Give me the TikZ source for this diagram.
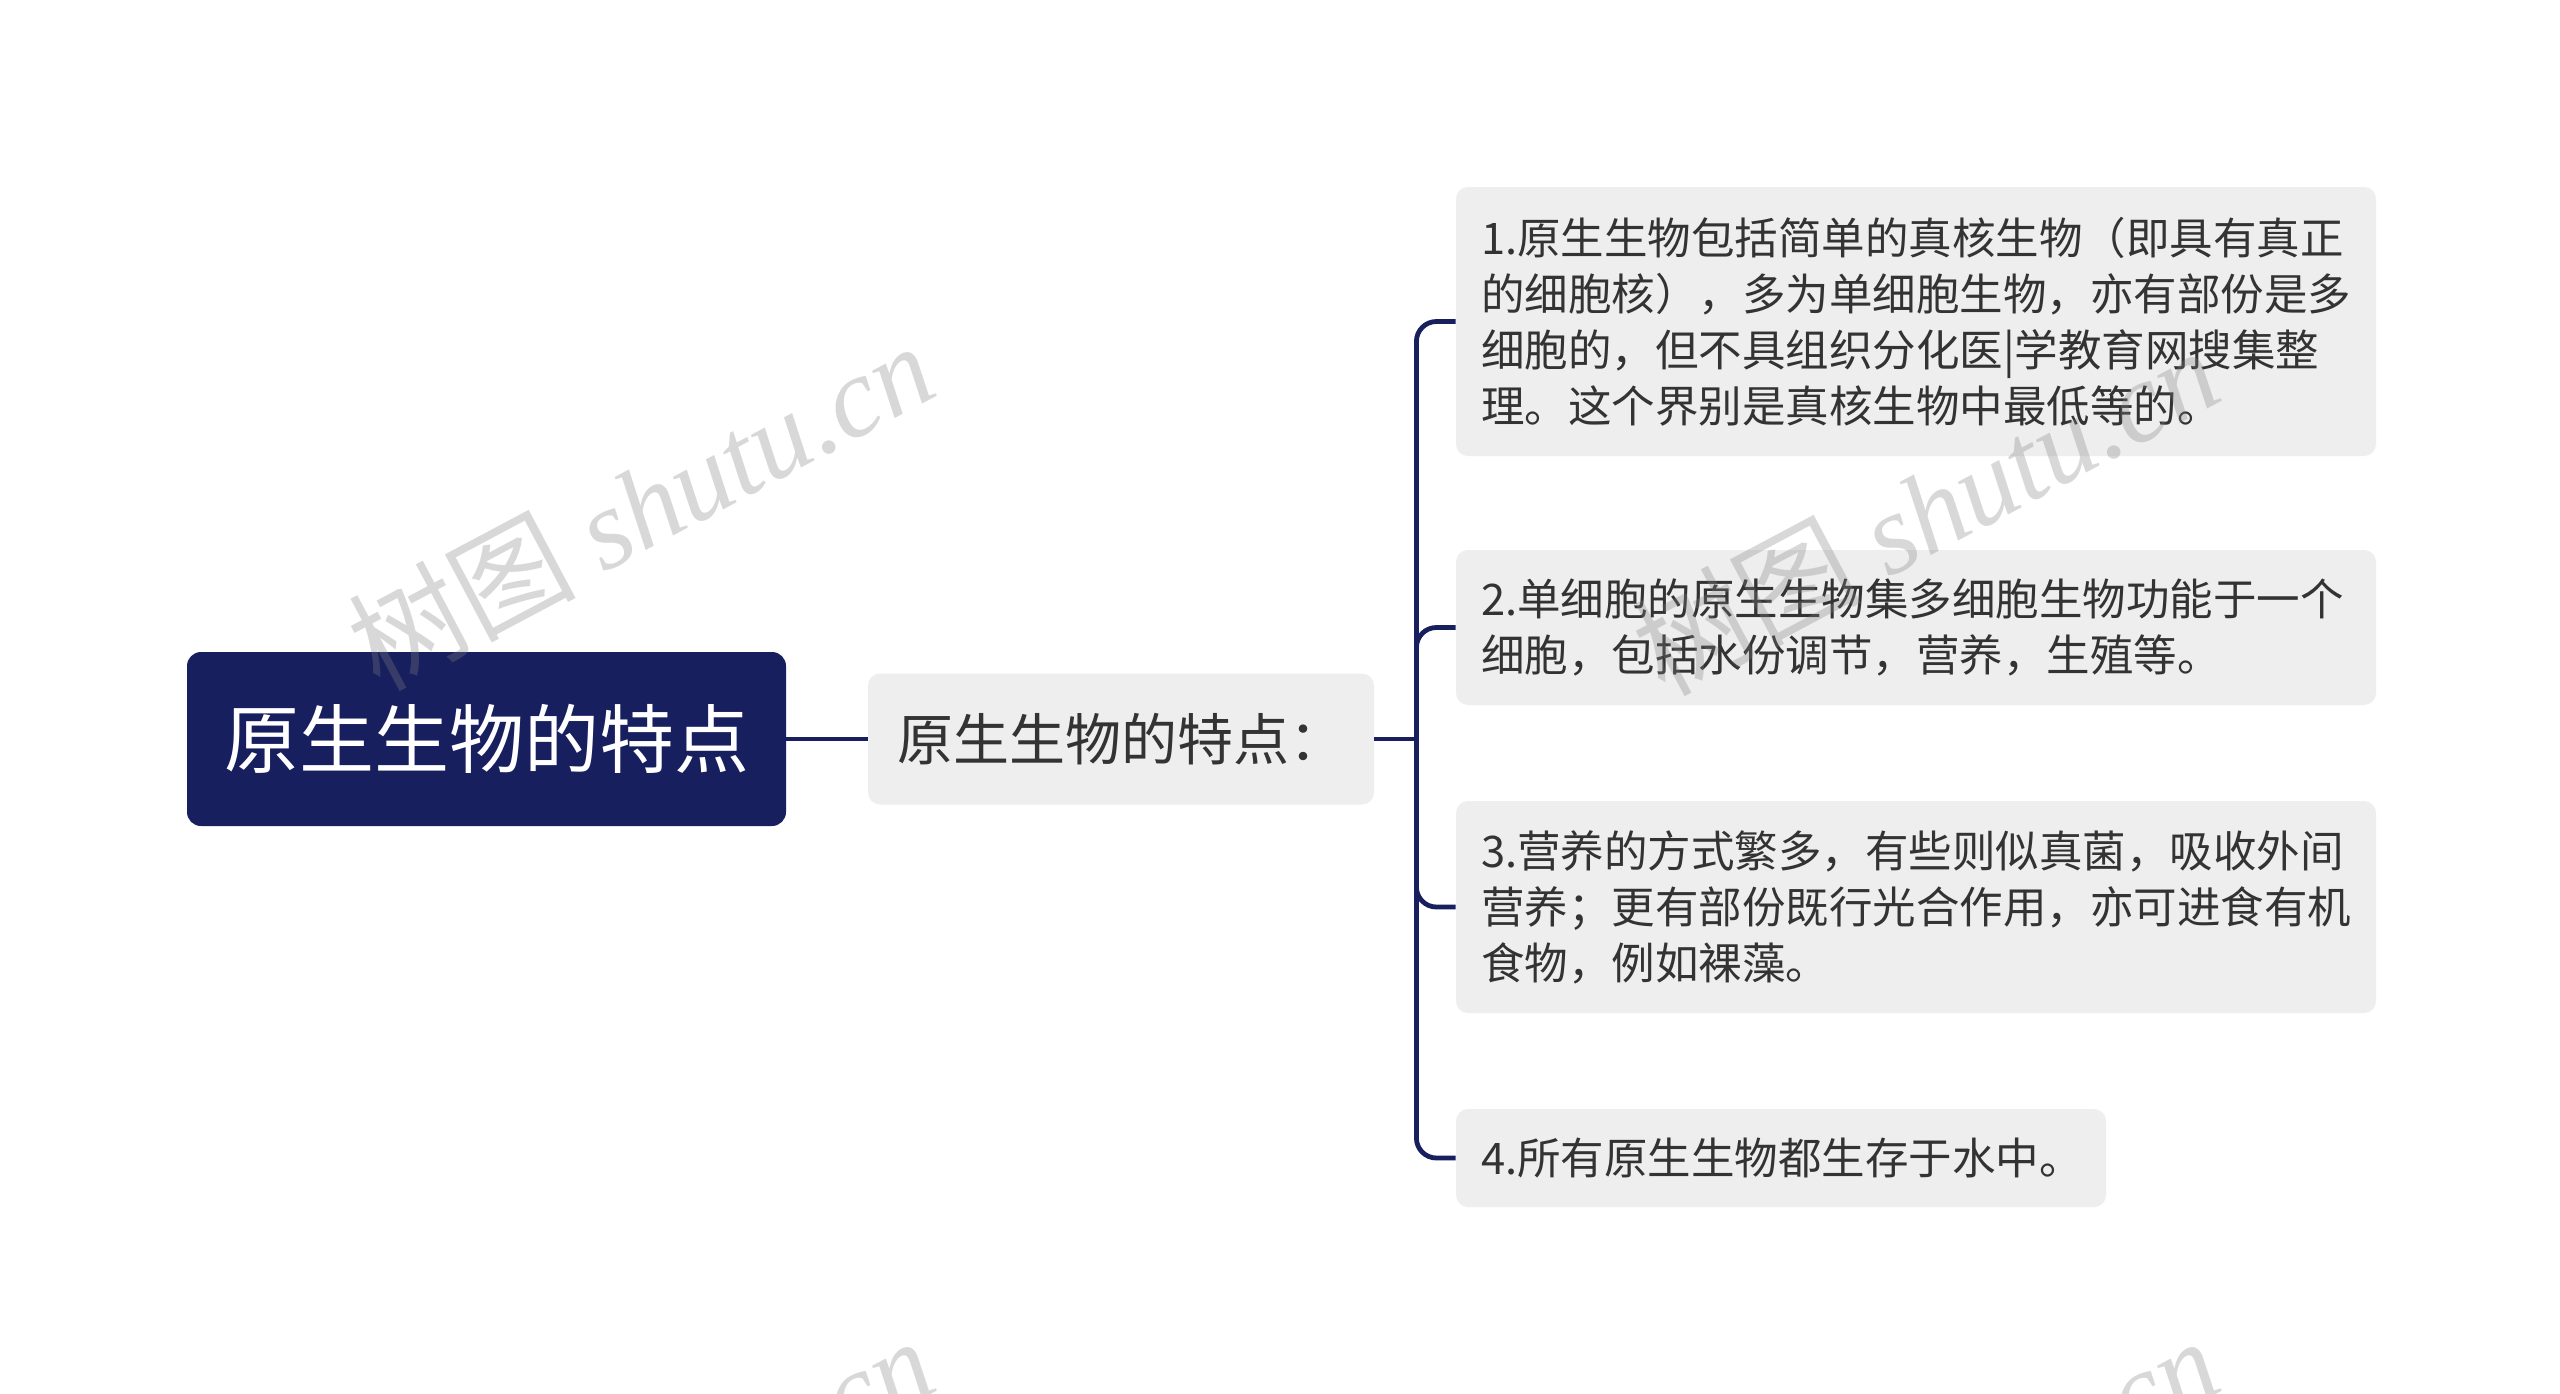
\documentclass[tikz,border=0pt]{standalone}
\usepackage{fontspec}
\setmainfont{Noto Sans CJK SC}
\newfontfamily\wmcjk{Noto Sans CJK SC}
\newfontfamily\wmlatin{Liberation Serif}
\definecolor{navy}{HTML}{181F5E}
\definecolor{boxgray}{HTML}{EEEEEE}
\definecolor{txt}{HTML}{333333}
\begin{document}
\begin{tikzpicture}[x=0.5pt,y=-0.5pt,
  rootbox/.style={rectangle, rounded corners=7pt, fill=navy, text=white,
    font=\fontsize{37.5pt}{45pt}\selectfont, minimum width=299.5pt, minimum height=87pt, inner sep=0pt},
  midbox/.style={rectangle, rounded corners=6pt, fill=boxgray, text=txt,
    font=\fontsize{28pt}{34pt}\selectfont, minimum width=253pt, minimum height=65.5pt, inner sep=0pt},
  leafbox/.style={rectangle, rounded corners=6pt, fill=boxgray, text=txt,
    font=\fontsize{21.75pt}{28pt}\selectfont, align=left, inner xsep=12.5pt, inner ysep=0pt},
  link/.style={draw=navy, line width=2.4pt},
  wm/.style={text=gray, text opacity=0.3, inner sep=0pt, font=\fontsize{57pt}{66pt}\selectfont}
]
\useasboundingbox (0,0) rectangle (2560,1393);
\fill[white] (0,0) rectangle (2560,1393);

\node[rootbox] (root) at (486.5,739) {原生生物的特点};
\node[midbox] (mid) at (1121,739) {原生生物的特点：};

\node[leafbox, text width=435pt, minimum height=134.5pt] (c1) at (1916,321.5)
  {1.原生生物包括简单的真核生物（即具有真正\\的细胞核），多为单细胞生物，亦有部份是多\\细胞的，但不具组织分化医|学教育网搜集整\\理。这个界别是真核生物中最低等的。};
\node[leafbox, text width=435pt, minimum height=77.5pt] (c2) at (1916,627.5)
  {2.单细胞的原生生物集多细胞生物功能于一个\\细胞，包括水份调节，营养，生殖等。};
\node[leafbox, text width=435pt, minimum height=106pt] (c3) at (1916,907)
  {3.营养的方式繁多，有些则似真菌，吸收外间\\营养；更有部份既行光合作用，亦可进食有机\\食物，例如裸藻。};
\node[leafbox, text width=300pt, minimum height=49pt] (c4) at (1781,1158)
  {4.所有原生生物都生存于水中。};

\draw[link] (root.east) -- (mid.west);
\coordinate (hub) at ([xshift=21pt]mid.east);
\draw[link] (mid.east) -- (hub);
\draw[link, rounded corners=10pt] (hub) |- (c1.west);
\draw[link, rounded corners=10pt] (hub) |- (c2.west);
\draw[link, rounded corners=10pt] (hub) |- (c3.west);
\draw[link, rounded corners=10pt] (hub) |- (c4.west);

\node[wm, rotate=28] (w1) at (640,505) {\wmcjk 树图 \wmlatin\itshape shutu.cn};
\node[wm, rotate=28] (w2) at (1925,510) {\wmcjk 树图 \wmlatin\itshape shutu.cn};
\node[wm, rotate=28] (w3) at (640,1500) {\wmcjk 树图 \wmlatin\itshape shutu.cn};
\node[wm, rotate=28] (w4) at (1925,1500) {\wmcjk 树图 \wmlatin\itshape shutu.cn};
\end{tikzpicture}
\end{document}
